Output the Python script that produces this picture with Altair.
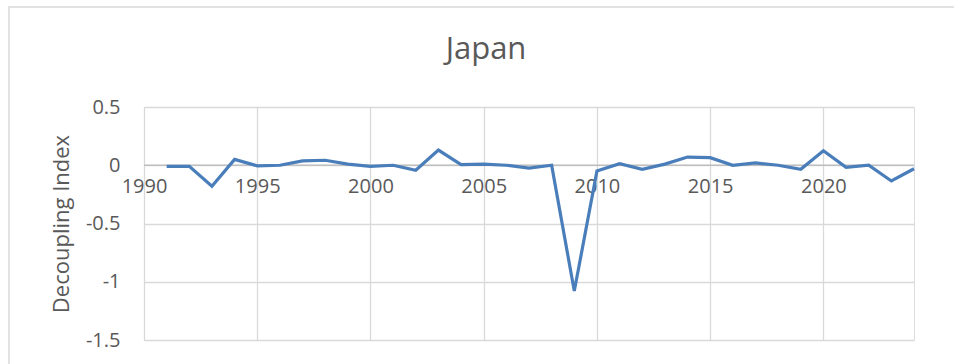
import altair as alt
import pandas as pd

years = list(range(1991, 2025))
values = [-0.01, -0.01, -0.18, 0.05, -0.005, 0.0, 0.037, 0.043, 0.01, -0.01,
          0.0, -0.043, 0.13, 0.005, 0.01, 0.0, -0.025, 0.0, -1.08, -0.05,
          0.013, -0.035, 0.01, 0.07, 0.065, 0.0, 0.02, 0.0, -0.035, 0.125,
          -0.017, 0.0, -0.135, -0.03]
x_ticks = [1990, 1995, 2000, 2005, 2010, 2015, 2020]
y_ticks = [-1.5, -1.0, -0.5, 0.0, 0.5]

df = pd.DataFrame({"year": years, "value": values})

FONT = "Open Sans"
TXT = "#595959"
GRID = "#d9d9d9"

W, H = 770, 233

x_scale = alt.Scale(domain=[1990, 2024], nice=False, zero=False)
y_scale = alt.Scale(domain=[-1.5, 0.5], nice=False)

frame = alt.Chart(pd.DataFrame({"a": [0]})).mark_rect(
    filled=False, stroke=GRID, strokeWidth=1.5
).encode(
    x=alt.value(-135), x2=alt.value(W + 60), y=alt.value(-100), y2=alt.value(H + 60)
)

zero = alt.Chart(pd.DataFrame({"z": [0.0]})).mark_rule(color="#bfbfbf", strokeWidth=1.3).encode(
    y=alt.Y("z:Q", scale=y_scale)
)

line = alt.Chart(df).mark_line(color="#4a7ebb", strokeWidth=3.2).encode(
    x=alt.X("year:Q", scale=x_scale,
            axis=alt.Axis(values=x_ticks, format="d", title=None, grid=True,
                          gridColor=GRID, gridWidth=1.3, domain=False, ticks=False,
                          labelFont=FONT, labelFontSize=20, labelColor=TXT,
                          offset=-175, labelPadding=11, labelFlush=False)),
    y=alt.Y("value:Q", scale=y_scale,
            axis=alt.Axis(values=y_ticks, title="Decoupling Index", grid=True,
                          gridColor=GRID, gridWidth=1.3, domain=False, ticks=False,
                          labelFont=FONT, labelFontSize=20, labelColor=TXT,
                          labelPadding=24, titleFont=FONT, titleFontSize=22,
                          titleFontWeight="normal", titleColor=TXT, titlePadding=12,
                          labelExpr="datum.value == 0 ? '0' : (datum.value < 0 ? '-' : '') + format(abs(datum.value), '.1~f')")),
)

chart = alt.layer(frame, zero, line).properties(
    width=W, height=H,
    title=alt.TitleParams(text="Japan", font=FONT, fontSize=31, fontWeight="normal",
                          color=TXT, anchor="middle", frame="group", baseline="alphabetic",
                          offset=-84, dx=-43),
    autosize=alt.AutoSizeParams(type="none"),
    padding={"left": 144, "top": 107, "right": 40, "bottom": 24},
).configure_view(stroke=None).configure(background="white")

chart.save("out.html", embed_options={"renderer": "svg", "actions": False})
